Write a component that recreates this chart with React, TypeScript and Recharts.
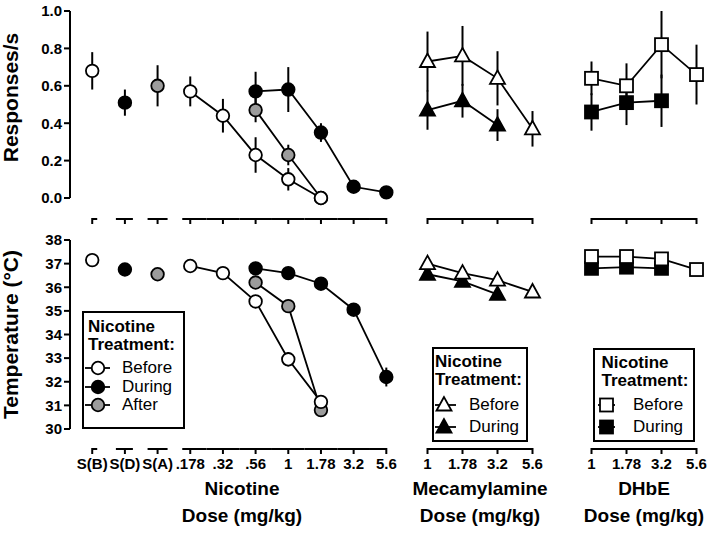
import { LineChart, Line, XAxis, YAxis, ErrorBar, Legend } from 'recharts';

const FONT = '"Liberation Sans", Arial, Helvetica, sans-serif';
const GRAY = '#9c9c9c';

// x categories
const nicotineDoses = ['S(B)', 'S(D)', 'S(A)', '.178', '.32', '.56', '1', '1.78', '3.2', '5.6'];
const antagonistDoses = ['1', '1.78', '3.2', '5.6'];

// responses/s, nicotine panel (saline points first)
const nicRateBefore = [0.68, null, null, 0.57, 0.44, 0.23, 0.1, 0.0, null, null];
const nicRateBeforeSem = [0.1, null, null, 0.08, 0.09, 0.095, 0.06, 0, null, null];
const nicRateDuring = [null, 0.51, null, null, null, 0.57, 0.58, 0.35, 0.06, 0.03];
const nicRateDuringSem = [null, 0.07, null, null, null, 0.105, 0.12, 0.05, 0.01, 0.01];
const nicRateAfter = [null, null, 0.6, null, null, 0.47, 0.23, 0.0, null, null];
const nicRateAfterSem = [null, null, 0.11, null, null, 0.065, 0.055, 0, null, null];

// temperature, nicotine panel
const nicTempBefore = [37.15, null, null, 36.9, 36.6, 35.4, 32.95, 31.15, null, null];
const nicTempBeforeSem = [0.1, null, null, 0.1, 0.1, 0.2, 0.3, 0.2, null, null];
const nicTempDuring = [null, 36.75, null, null, null, 36.8, 36.6, 36.15, 35.05, 32.2];
const nicTempDuringSem = [null, 0.1, null, null, null, 0.1, 0.1, 0.1, 0.15, 0.4];
const nicTempAfter = [null, null, 36.55, null, null, 36.2, 35.2, 30.8, null, null];
const nicTempAfterSem = [null, null, 0.1, null, null, 0.15, 0.2, 0.2, null, null];

// mecamylamine
const mecRateBefore = [0.73, 0.76, 0.64, 0.37];
const mecRateBeforeSem = [0.16, 0.16, 0.145, 0.095];
const mecRateDuring = [0.47, 0.52, 0.39, null];
const mecRateDuringSem = [0.105, 0.09, 0.085, null];
const mecTempBefore = [37.0, 36.6, 36.3, 35.8];
const mecTempBeforeSem = [0.1, 0.1, 0.1, 0.1];
const mecTempDuring = [36.55, 36.25, 35.7, null];
const mecTempDuringSem = [0.1, 0.1, 0.1, null];

// DHbE
const dhRateBefore = [0.64, 0.6, 0.82, 0.66];
const dhRateBeforeSem = [0.09, 0.12, 0.18, 0.16];
const dhRateDuring = [0.46, 0.51, 0.52, null];
const dhRateDuringSem = [0.1, 0.12, 0.14, null];
const dhTempBefore = [37.3, 37.3, 37.2, 36.75];
const dhTempBeforeSem = [0.1, 0.1, 0.1, 0.1];
const dhTempDuring = [36.8, 36.85, 36.8, null];
const dhTempDuringSem = [0.1, 0.1, 0.1, null];

const rateTicks = [0, 0.2, 0.4, 0.6, 0.8, 1.0];
const tempTicks = [30, 31, 32, 33, 34, 35, 36, 37, 38];

type Num = number | null;
type Shape = 'circle' | 'triangle' | 'square';
type Series = { key: string; err: string; name: string; shape: Shape; fill: string };

const toRows = (cats: string[], cols: Record<string, Num[]>) =>
  cats.map((dose, i) => {
    const row: any = { x: i, dose };
    for (const k in cols) row[k] = cols[k][i];
    return row;
  });

const circles: Series[] = [
  { key: 'after', err: 'afterSem', name: 'After', shape: 'circle', fill: GRAY },
  { key: 'during', err: 'duringSem', name: 'During', shape: 'circle', fill: '#000' },
  { key: 'before', err: 'beforeSem', name: 'Before', shape: 'circle', fill: '#fff' },
];
const triangles: Series[] = [
  { key: 'during', err: 'duringSem', name: 'During', shape: 'triangle', fill: '#000' },
  { key: 'before', err: 'beforeSem', name: 'Before', shape: 'triangle', fill: '#fff' },
];
const squares: Series[] = [
  { key: 'during', err: 'duringSem', name: 'During', shape: 'square', fill: '#000' },
  { key: 'before', err: 'beforeSem', name: 'Before', shape: 'square', fill: '#fff' },
];

function Marker({ cx, cy, shape, fill }: { cx: number; cy: number; shape: Shape; fill: string }) {
  if (cx == null || cy == null || isNaN(cx) || isNaN(cy)) return null;
  const common = { fill, stroke: '#000', strokeWidth: 1.8 };
  if (shape === 'circle') return <circle cx={cx} cy={cy} r={6.3} {...common} />;
  if (shape === 'triangle')
    return <polygon points={`${cx},${cy - 8} ${cx - 7.5},${cy + 5.5} ${cx + 7.5},${cy + 5.5}`} {...common} />;
  return <rect x={cx - 6.5} y={cy - 6.5} width={13} height={13} {...common} />;
}

// broken dose axis: each tick draws its own piece of the axis line
const doseSegs = (count: number, half: number, leadIn: number) =>
  Array.from({ length: count }, (_, i) => [i === 0 ? leadIn : half, i === count - 1 ? 0 : half]);
const nicSegs = [[0, 5], [9, 8], [10, 10], ...doseSegs(7, 16.34, 8)];
const antSegs = doseSegs(4, 17.5, 0);

function DoseTick(props: any) {
  const { x, y, payload, labels, segs, gap, showLabel } = props;
  const i = payload.value;
  const [l, r] = segs[i];
  const ay = y + gap;
  return (
    <g>
      <line x1={x - l} x2={x + r} y1={ay} y2={ay} stroke="#000" strokeWidth={2} />
      <line x1={x} x2={x} y1={ay - 1} y2={ay + 5} stroke="#000" strokeWidth={2} />
      {showLabel && (
        <text x={x} y={ay + 20} textAnchor="middle" fontSize={15} fontWeight={700} fontFamily={FONT} fill="#000">
          {labels[i]}
        </text>
      )}
    </g>
  );
}

function YTitle(props: any) {
  const { viewBox, text, dy } = props;
  const x = viewBox.x + 18;
  const y = viewBox.y + viewBox.height / 2 + dy;
  return (
    <text x={x} y={y} transform={`rotate(-90 ${x} ${y})`} textAnchor="middle" fontSize={21} fontWeight={700} fontFamily={FONT} fill="#000">
      {text}
    </text>
  );
}

type LegendCfg = {
  left: number; top: number; width: number; height: number;
  headLeft: number; headTop: number;
  lineX1: number; lineX2: number; markX: number; textLeft: number;
  rowY0: number; rowH: number;
};

function LegendBox({ cfg, items }: { cfg: LegendCfg; items: Series[] }) {
  return (
    <div style={{ width: cfg.width, height: cfg.height, boxSizing: 'border-box', border: '2px solid #000', background: '#fff', position: 'relative', fontFamily: FONT, color: '#000' }}>
      <div style={{ position: 'absolute', left: cfg.headLeft, top: cfg.headTop, fontSize: 17, fontWeight: 700, lineHeight: '17.5px', whiteSpace: 'nowrap' }}>
        Nicotine<br />Treatment:
      </div>
      {items.map((it, i) => {
        const cy = cfg.rowY0 + i * cfg.rowH;
        return (
          <div key={it.name}>
            <svg width={cfg.lineX2 + 4} height={20} style={{ position: 'absolute', left: 0, top: cy - 10 }}>
              <line x1={cfg.lineX1} x2={cfg.lineX2} y1={10} y2={10} stroke="#000" strokeWidth={1.8} />
              <Marker cx={cfg.markX} cy={10} shape={it.shape} fill={it.fill} />
            </svg>
            <div style={{ position: 'absolute', left: cfg.textLeft, top: cy - 10, height: 20, lineHeight: '20px', fontSize: 17 }}>{it.name}</div>
          </div>
        );
      })}
    </div>
  );
}

type PanelProps = {
  left: number; top: number; plotW: number; plotH: number; xAxisH: number; yAxisW: number;
  rows: any[]; series: Series[]; legendOrder?: Series[]; xDomain: [number, number];
  labels: string[]; segs: number[][]; gap: number; showLabels: boolean;
  yDomain: [number, number]; yTicks?: number[]; yFmt?: (v: number) => string;
  yTitle?: string; yTitleDy?: number; legend?: LegendCfg;
};

function Panel(p: PanelProps) {
  const ticks = p.labels.map((_, i) => i);
  return (
    <div style={{ position: 'absolute', left: p.left, top: p.top }}>
      <LineChart width={p.yAxisW + p.plotW} height={11 + p.plotH + p.xAxisH} data={p.rows} margin={{ top: 11, right: 0, bottom: 0, left: 0 }}>
        <XAxis
          type="number"
          dataKey="x"
          domain={p.xDomain}
          ticks={ticks}
          interval={0}
          height={p.xAxisH}
          axisLine={false}
          tickLine={false}
          tickSize={0}
          tickMargin={0}
          tick={(t: any) => <DoseTick {...t} labels={p.labels} segs={p.segs} gap={p.gap} showLabel={p.showLabels} />}
        />
        {p.yAxisW > 0 ? (
          <YAxis
            width={p.yAxisW}
            domain={p.yDomain}
            ticks={p.yTicks}
            interval={0}
            tickFormatter={p.yFmt}
            axisLine={{ stroke: '#000', strokeWidth: 2 }}
            tickLine={{ stroke: '#000', strokeWidth: 2 }}
            tickSize={6}
            tickMargin={2}
            tick={{ fill: '#000', fontSize: 15, fontWeight: 700, fontFamily: FONT }}
            label={<YTitle text={p.yTitle} dy={p.yTitleDy ?? 0} />}
          />
        ) : (
          <YAxis hide domain={p.yDomain} />
        )}
        {p.series.map((s) => (
          <Line
            key={s.key}
            dataKey={s.key}
            type="linear"
            stroke="#000"
            strokeWidth={1.8}
            isAnimationActive={false}
            activeDot={false}
            dot={(d: any) => <Marker key={`${s.key}-${d.index}`} cx={d.cx} cy={d.cy} shape={s.shape} fill={s.fill} />}
          >
            <ErrorBar dataKey={s.err} width={0} stroke="#000" strokeWidth={2} direction="y" isAnimationActive={false} />
          </Line>
        ))}
        {p.legend && (
          <Legend
            layout="vertical"
            align="center"
            verticalAlign="middle"
            wrapperStyle={{ left: p.legend.left, top: p.legend.top, width: p.legend.width, height: p.legend.height }}
            content={() => <LegendBox cfg={p.legend as LegendCfg} items={p.legendOrder ?? []} />}
          />
        )}
      </LineChart>
    </div>
  );
}

const nicRateRows = toRows(nicotineDoses, {
  before: nicRateBefore, beforeSem: nicRateBeforeSem,
  during: nicRateDuring, duringSem: nicRateDuringSem,
  after: nicRateAfter, afterSem: nicRateAfterSem,
});
const nicTempRows = toRows(nicotineDoses, {
  before: nicTempBefore, beforeSem: nicTempBeforeSem,
  during: nicTempDuring, duringSem: nicTempDuringSem,
  after: nicTempAfter, afterSem: nicTempAfterSem,
});
const mecRateRows = toRows(antagonistDoses, { before: mecRateBefore, beforeSem: mecRateBeforeSem, during: mecRateDuring, duringSem: mecRateDuringSem });
const mecTempRows = toRows(antagonistDoses, { before: mecTempBefore, beforeSem: mecTempBeforeSem, during: mecTempDuring, duringSem: mecTempDuringSem });
const dhRateRows = toRows(antagonistDoses, { before: dhRateBefore, beforeSem: dhRateBeforeSem, during: dhRateDuring, duringSem: dhRateDuringSem });
const dhTempRows = toRows(antagonistDoses, { before: dhTempBefore, beforeSem: dhTempBeforeSem, during: dhTempDuring, duringSem: dhTempDuringSem });

const rev = (s: Series[]) => [...s].reverse();

const titleStyle = (cx: number): React.CSSProperties => ({
  position: 'absolute', left: cx - 100, top: 475, width: 200, textAlign: 'center',
  fontSize: 19, fontWeight: 700, lineHeight: '27px', fontFamily: FONT, color: '#000',
});

export default function App() {
  const nic = { left: 0, plotW: 332, yAxisW: 70, xDomain: [-0.68, 9.48] as [number, number], labels: nicotineDoses, segs: nicSegs };
  const mec = { left: 410, plotW: 140, yAxisW: 0, xDomain: [-0.5, 3.5] as [number, number], labels: antagonistDoses, segs: antSegs };
  const dh = { left: 574, plotW: 135, yAxisW: 0, xDomain: [-0.5, 3.357] as [number, number], labels: antagonistDoses, segs: antSegs };
  const top = { top: 0, plotH: 187, xAxisH: 30, gap: 21, showLabels: false, yDomain: [0, 1] as [number, number] };
  const bot = { top: 229, plotH: 189, xAxisH: 50, gap: 20, showLabels: true, yDomain: [30, 38] as [number, number] };

  return (
    <div style={{ position: 'absolute', left: 0, top: 0, width: 709, height: 538, overflow: 'hidden', background: '#fff', fontFamily: FONT }}>
      <Panel {...nic} {...top} rows={nicRateRows} series={circles} yTicks={rateTicks} yFmt={(v) => v.toFixed(1)} yTitle="Responses/s" yTitleDy={-7} />
      <Panel {...mec} {...top} rows={mecRateRows} series={triangles} />
      <Panel {...dh} {...top} rows={dhRateRows} series={squares} />

      <Panel
        {...nic} {...bot} rows={nicTempRows} series={circles} yTicks={tempTicks} yFmt={(v) => String(v)} yTitle="Temperature (°C)"
        legendOrder={rev(circles)}
        legend={{ left: 82, top: 82, width: 103, height: 118, headLeft: 4, headTop: 5, lineX1: 1, lineX2: 26, markX: 14, textLeft: 38, rowY0: 55, rowH: 18.5 }}
      />
      <Panel
        {...mec} {...bot} rows={mecTempRows} series={triangles}
        legendOrder={rev(triangles)}
        legend={{ left: 22, top: 118, width: 96, height: 95, headLeft: 1, headTop: 4, lineX1: 1, lineX2: 22, markX: 10, textLeft: 35, rowY0: 56, rowH: 22 }}
      />
      <Panel
        {...dh} {...bot} rows={dhTempRows} series={squares}
        legendOrder={rev(squares)}
        legend={{ left: 19, top: 119, width: 102, height: 94, headLeft: 6.5, headTop: 4, lineX1: 3, lineX2: 20, markX: 11.5, textLeft: 38, rowY0: 55, rowH: 22 }}
      />

      <div style={titleStyle(242)}>Nicotine<br />Dose (mg/kg)</div>
      <div style={titleStyle(480)}>Mecamylamine<br />Dose (mg/kg)</div>
      <div style={titleStyle(644)}>DHbE<br />Dose (mg/kg)</div>
    </div>
  );
}
